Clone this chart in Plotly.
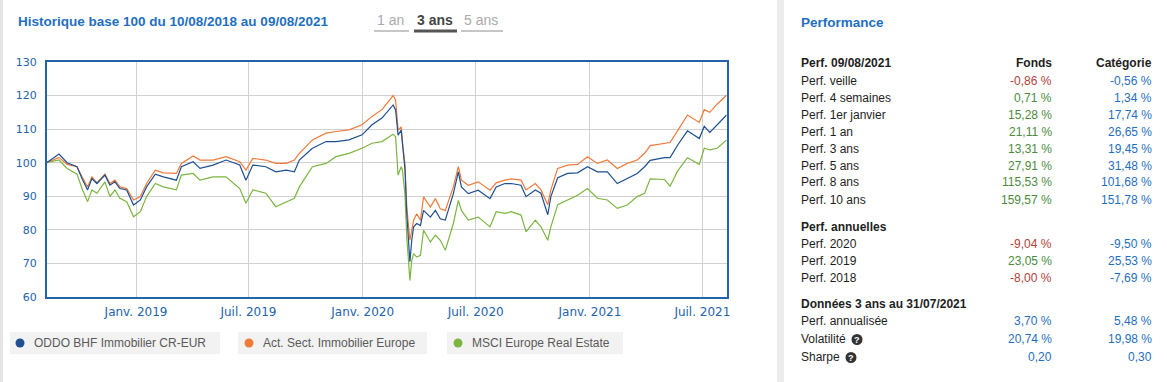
import plotly.graph_objects as go

# ---------------- data ----------------
dates = [
    "2018-08-10", "2018-08-30", "2018-09-12", "2018-09-28", "2018-10-06", "2018-10-15", "2018-10-22",
    "2018-10-30", "2018-11-12", "2018-11-20", "2018-11-28", "2018-12-06", "2018-12-17", "2018-12-28",
    "2019-01-08", "2019-01-18", "2019-02-01", "2019-02-14", "2019-03-07", "2019-03-15", "2019-04-03",
    "2019-04-14", "2019-05-05", "2019-05-26", "2019-06-17", "2019-06-27", "2019-07-08", "2019-07-29",
    "2019-08-14", "2019-08-31", "2019-09-13", "2019-09-21", "2019-10-12", "2019-11-03", "2019-11-19",
    "2019-12-10", "2019-12-31", "2020-01-16", "2020-02-01", "2020-02-19", "2020-02-23", "2020-02-27",
    "2020-03-03", "2020-03-05", "2020-03-09", "2020-03-12", "2020-03-17", "2020-03-20", "2020-03-23",
    "2020-03-28", "2020-04-03", "2020-04-08", "2020-04-19", "2020-04-27", "2020-05-05", "2020-05-13",
    "2020-05-26", "2020-06-03", "2020-06-08", "2020-06-19", "2020-07-05", "2020-07-24", "2020-08-03",
    "2020-08-17", "2020-08-27", "2020-09-12", "2020-09-20", "2020-10-05", "2020-10-14", "2020-10-25",
    "2020-10-30", "2020-11-10", "2020-11-26", "2020-12-12", "2020-12-28", "2021-01-13", "2021-01-29",
    "2021-02-14", "2021-03-02", "2021-03-18", "2021-03-30", "2021-04-08", "2021-05-01", "2021-05-10",
    "2021-05-22", "2021-06-07", "2021-06-26", "2021-07-04", "2021-07-13", "2021-07-25", "2021-08-09",
]

fund = [
    100.0, 102.6, 100.0, 98.8, 95.3, 91.9, 95.3, 93.8, 96.3, 93.3, 94.3, 92.3, 91.9, 87.4,
    88.9, 92.8, 96.6, 95.8, 94.8, 98.8, 100.3, 98.3, 99.3, 100.8, 99.3, 94.8, 99.3, 98.8,
    97.3, 97.8, 97.3, 100.8, 104.3, 106.3, 106.3, 106.8, 108.3, 111.3, 113.3, 117.2, 115.7, 108.2,
    109.7, 105.3, 98.3, 84.8, 70.5, 76.9, 80.9, 81.9, 81.3, 85.8, 83.8, 85.8, 83.3, 82.9,
    90.8, 97.3, 92.8, 90.8, 91.8, 89.3, 92.8, 93.8, 93.8, 93.3, 89.9, 91.9, 90.9, 84.5,
    89.9, 95.5, 96.8, 97.0, 98.8, 97.3, 97.3, 93.8, 95.3, 96.8, 98.8, 100.7, 101.5, 101.5,
    105.2, 109.5, 107.2, 110.8, 109.0, 111.3, 114.2,
]

category = [
    100.0, 101.6, 99.5, 98.8, 95.8, 92.8, 95.8, 94.0, 96.6, 93.8, 94.8, 92.8, 92.3, 88.9,
    89.9, 93.8, 97.8, 97.0, 96.8, 99.8, 102.0, 100.8, 100.8, 101.8, 100.3, 97.8, 101.3, 100.8,
    99.8, 99.8, 100.8, 102.8, 106.8, 108.8, 109.3, 109.8, 111.3, 113.8, 115.8, 120.0, 118.7, 109.7,
    110.7, 105.8, 99.8, 86.8, 76.9, 79.9, 82.9, 84.8, 82.9, 89.8, 86.8, 89.3, 86.3, 85.8,
    92.8, 98.8, 94.8, 93.3, 94.3, 91.8, 94.0, 94.8, 95.2, 94.8, 91.9, 93.8, 91.9, 87.5,
    91.9, 98.3, 99.3, 99.5, 101.8, 99.8, 100.8, 98.3, 99.8, 100.8, 102.8, 105.1, 105.8, 106.0,
    109.5, 114.2, 112.0, 115.8, 115.0, 117.5, 120.1,
]

index_msci = [
    100.0, 100.8, 98.3, 96.6, 92.3, 88.4, 91.9, 90.9, 94.3, 89.9, 91.9, 89.4, 88.4, 83.9,
    85.4, 89.9, 93.8, 92.8, 91.9, 96.3, 96.8, 94.8, 95.8, 95.8, 92.3, 87.9, 91.9, 90.9,
    86.9, 88.4, 89.4, 92.8, 98.8, 99.8, 101.8, 102.8, 104.3, 105.8, 106.3, 108.5, 107.7, 96.3,
    98.8, 97.8, 90.8, 77.9, 64.9, 70.9, 72.9, 71.9, 72.4, 79.9, 76.4, 78.4, 76.9, 73.9,
    81.9, 88.8, 85.8, 82.9, 83.8, 80.9, 85.4, 84.9, 85.4, 84.4, 79.4, 82.9, 80.9, 76.9,
    80.9, 87.5, 88.9, 90.3, 92.3, 89.4, 88.9, 86.4, 87.4, 89.9, 90.9, 95.2, 95.0, 93.0,
    97.5, 101.5, 99.5, 104.3, 103.8, 104.3, 106.8,
]

series_names = ["ODDO BHF Immobilier CR-EUR", "Act. Sect. Immobilier Europe", "MSCI Europe Real Estate"]
series_colors = ["#1d4f91", "#f07a3a", "#7cb540"]

x_tick_vals = ["2019-01-01", "2019-07-01", "2020-01-01", "2020-07-01", "2021-01-01", "2021-07-01"]
x_tick_text = ["Janv. 2019", "Juil. 2019", "Janv. 2020", "Juil. 2020", "Janv. 2021", "Juil. 2021"]
y_tick_vals = [60, 70, 80, 90, 100, 110, 120, 130]

chart_title = "Historique base 100 du 10/08/2018 au 09/08/2021"
period_tabs = ["1 an", "3 ans", "5 ans"]

perf_header = ["Perf. 09/08/2021", "Fonds", "Catégorie"]
perf_rows = [
    ["Perf. veille", "-0,86 %", "-0,56 %"],
    ["Perf. 4 semaines", "0,71 %", "1,34 %"],
    ["Perf. 1er janvier", "15,28 %", "17,74 %"],
    ["Perf. 1 an", "21,11 %", "26,65 %"],
    ["Perf. 3 ans", "13,31 %", "19,45 %"],
    ["Perf. 5 ans", "27,91 %", "31,48 %"],
    ["Perf. 8 ans", "115,53 %", "101,68 %"],
    ["Perf. 10 ans", "159,57 %", "151,78 %"],
]
annual_header = "Perf. annuelles"
annual_rows = [
    ["Perf. 2020", "-9,04 %", "-9,50 %"],
    ["Perf. 2019", "23,05 %", "25,53 %"],
    ["Perf. 2018", "-8,00 %", "-7,69 %"],
]
risk_header = "Données 3 ans au 31/07/2021"
risk_rows = [
    ["Perf. annualisée", "3,70 %", "5,48 %"],
    ["Volatilité", "20,74 %", "19,98 %"],
    ["Sharpe", "0,20", "0,30"],
]

# ---------------- layout helpers ----------------
W, H = 1167, 382
def px(x):
    return x / W
def py(y):
    return 1 - y / H

ARIAL = "Liberation Sans, Arial, sans-serif"
VERD = "DejaVu Sans, Verdana, sans-serif"
BLUE = "#1f6fc1"
AXBLUE = "#2463ac"
RED = "#b1423b"
GREEN = "#4c8a3e"
VBLUE = "#1f6fc1"

fig = go.Figure()

for name, vals, color in reversed(list(zip(series_names, [fund, category, index_msci], series_colors))):
    fig.add_trace(go.Scatter(x=dates, y=vals, mode="lines", name=name,
                             line=dict(color=color, width=1.2), showlegend=False))

shapes = []
annotations = []

# page decorations
shapes.append(dict(type="rect", xref="paper", yref="paper", x0=px(0), x1=px(3), y0=0, y1=1,
                   fillcolor="#e4e4e4", line=dict(width=0), layer="below"))
shapes.append(dict(type="rect", xref="paper", yref="paper", x0=px(777), x1=px(784), y0=0, y1=1,
                   fillcolor="#ececec", line=dict(width=0), layer="below"))

# title and tabs
annotations.append(dict(text="<b>" + chart_title + "</b>", x=px(16), y=py(21), xref="paper", yref="paper",
                        xanchor="left", yanchor="middle", showarrow=False,
                        font=dict(family=ARIAL, size=13.5, color=BLUE)))
tab_centers = [390.5, 434.5, 481]
tab_lines = [(374, 409), (414, 457), (461, 503)]
for i, t in enumerate(period_tabs):
    active = (t == "3 ans")
    annotations.append(dict(text=("<b>" + t + "</b>") if active else t, x=px(tab_centers[i]), y=py(20),
                            xref="paper", yref="paper", xanchor="center", yanchor="middle", showarrow=False,
                            font=dict(family=ARIAL, size=14, color="#444444" if active else "#ababab")))
    a, b = tab_lines[i]
    shapes.append(dict(type="line", xref="paper", yref="paper", x0=px(a), x1=px(b), y0=py(31), y1=py(31),
                       line=dict(color="#555555" if active else "#c6c6c6", width=3 if active else 2)))

# legend boxes
legend_boxes = [(10, 220, 20, 32), (238, 427, 249, 261), (447, 623, 458, 470)]
for (x0, x1, cx, tx), name, color in zip(legend_boxes, series_names, series_colors):
    shapes.append(dict(type="rect", xref="paper", yref="paper", x0=px(x0), x1=px(x1), y0=py(354), y1=py(332),
                       fillcolor="#f2f2f2", line=dict(width=0), layer="below"))
    shapes.append(dict(type="circle", xref="paper", yref="paper", x0=px(cx - 4.5), x1=px(cx + 4.5),
                       y0=py(347.5), y1=py(338.5), fillcolor=color, line=dict(width=0)))
    annotations.append(dict(text=name, x=px(tx), y=py(343), xref="paper", yref="paper",
                            xanchor="left", yanchor="middle", showarrow=False,
                            font=dict(family=ARIAL, size=12, color="#5a5a5a")))

# performance panel
annotations.append(dict(text="<b>Performance</b>", x=px(799), y=py(22), xref="paper", yref="paper",
                        xanchor="left", yanchor="middle", showarrow=False,
                        font=dict(family=ARIAL, size=13.5, color=BLUE)))

LX, FX, CX = 799, 1054, 1154
def label(text, y, bold=False):
    annotations.append(dict(text=("<b>%s</b>" % text) if bold else text, x=px(LX), y=py(y), xref="paper",
                            yref="paper", xanchor="left", yanchor="middle", showarrow=False,
                            font=dict(family=ARIAL, size=12, color="#1e1e1e")))
def value(text, xr, y, color, bold=False):
    annotations.append(dict(text=("<b>%s</b>" % text) if bold else text, x=px(xr), y=py(y), xref="paper",
                            yref="paper", xanchor="right", yanchor="middle", showarrow=False,
                            font=dict(family=ARIAL, size=12, color=color)))

def sign_color(v):
    return RED if v.strip().startswith("-") else GREEN

label(perf_header[0], 63, bold=True)
value(perf_header[1], FX, 63, "#1e1e1e", bold=True)
value(perf_header[2], CX, 63, "#1e1e1e", bold=True)
perf_y = [81, 98, 114.5, 132, 149, 165.5, 182.5, 200]
for (l, f, c), y in zip(perf_rows, perf_y):
    label(l, y)
    value(f, FX, y, sign_color(f))
    value(c, CX, y, VBLUE)

label(annual_header, 227, bold=True)
annual_y = [244, 261, 277.5]
for (l, f, c), y in zip(annual_rows, annual_y):
    label(l, y)
    value(f, FX, y, sign_color(f))
    value(c, CX, y, VBLUE)

label(risk_header, 304, bold=True)
risk_y = [321, 339, 357]
for (l, f, c), y in zip(risk_rows, risk_y):
    label(l, y)
    value(f, FX, y, VBLUE)
    value(c, CX, y, VBLUE)

# help icons
for cx, cy in [(857, 339.5), (851, 357.5)]:
    shapes.append(dict(type="circle", xref="paper", yref="paper", x0=px(cx - 5.5), x1=px(cx + 5.5),
                       y0=py(cy + 5.5), y1=py(cy - 5.5), fillcolor="#333333", line=dict(width=0)))
    annotations.append(dict(text="<b>?</b>", x=px(cx), y=py(cy), xref="paper", yref="paper",
                            xanchor="center", yanchor="middle", showarrow=False,
                            font=dict(family=ARIAL, size=9, color="#ffffff")))

fig.update_layout(
    width=W, height=H, autosize=False,
    margin=dict(l=0, r=0, t=0, b=0, pad=0, autoexpand=False),
    paper_bgcolor="#ffffff", plot_bgcolor="#ffffff",
    shapes=shapes, annotations=annotations,
    showlegend=False,
    xaxis=dict(domain=[px(46.6), px(726.6)], type="date", range=["2018-08-10", "2021-08-09"],
               tickvals=x_tick_vals, ticktext=x_tick_text, showgrid=True, gridcolor="#d0d0d0", gridwidth=1,
               showline=True, linecolor=AXBLUE, linewidth=1.5, mirror=True, zeroline=False,
               ticks="outside", ticklen=3, tickcolor="rgba(0,0,0,0)", automargin=False,
               tickfont=dict(family=VERD, size=12, color=AXBLUE), fixedrange=True),
    yaxis=dict(domain=[py(297), py(62)], range=[60, 130], tickvals=y_tick_vals,
               showgrid=True, gridcolor="#d0d0d0", gridwidth=1,
               showline=True, linecolor=AXBLUE, linewidth=1.5, mirror=True, zeroline=False,
               ticks="outside", ticklen=6, tickcolor="rgba(0,0,0,0)", automargin=False,
               tickfont=dict(family=VERD, size=11, color=AXBLUE), fixedrange=True),
)

fig.write_html("out.html", post_script="document.body.style.margin='0';document.body.style.overflow='hidden';",
               config={"displayModeBar": False})
